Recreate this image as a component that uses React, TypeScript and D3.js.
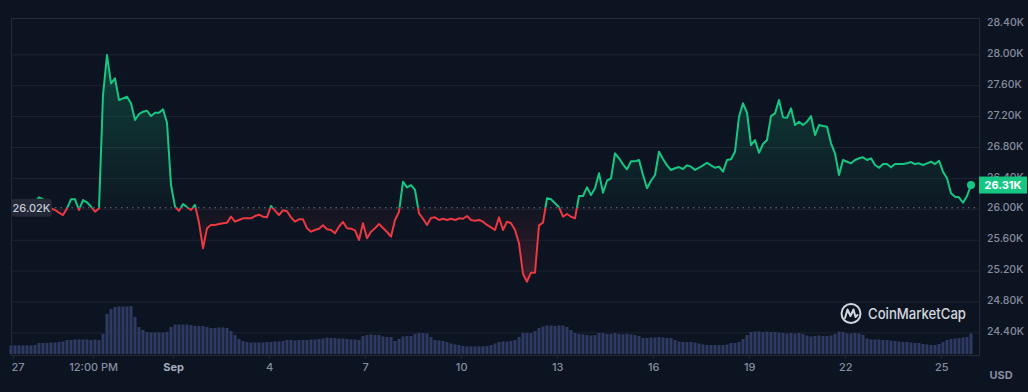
// BTC price chart, CoinMarketCap dark style
import React, { useEffect, useRef } from 'react';
import * as d3 from 'd3';

// 3-hourly samples starting Aug 26 22:00 UTC
const START_TIME = Date.UTC(2023, 7, 26, 22);
const STEP_HOURS = 3;

const prices = [
  26056, 26056, 26034, 26056, 26078, 26056, 26098, 26155, 26129, 26056,
  26012, 25991, 25956, 25926, 26012, 26129, 26129, 25991, 26120, 26091,
  26034, 25969, 26012, 27479, 27997, 27630, 27695, 27414, 27436, 27457,
  27372, 27156, 27233, 27263, 27276, 27207, 27250, 27250, 27294, 27121,
  26314, 26034, 25982, 26069, 26026, 25991, 26056, 25827, 25495, 25754,
  25797, 25797, 25810, 25819, 25827, 25905, 25840, 25862, 25883, 25883,
  25883, 25913, 25930, 25904, 25896, 26043, 25982, 25926, 25987, 25974,
  25896, 25840, 25870, 25870, 25754, 25710, 25732, 25749, 25793, 25741,
  25732, 25689, 25775, 25836, 25754, 25749, 25728, 25603, 25819, 25625,
  25710, 25754, 25810, 25758, 25706, 25646, 25862, 25969, 26357, 26284,
  26314, 26250, 25948, 25878, 25797, 25887, 25896, 25862, 25878, 25862,
  25878, 25862, 25883, 25878, 25913, 25862, 25852, 25862, 25840, 25797,
  25767, 25732, 25896, 25732, 25840, 25819, 25732, 25560, 25163, 25063,
  25180, 25180, 25793, 25827, 26142, 26129, 26078, 26026, 25904, 25939,
  25904, 25883, 26172, 26172, 26284, 26185, 26272, 26466, 26215, 26370,
  26401, 26725, 26660, 26582, 26518, 26621, 26621, 26638, 26444, 26272,
  26370, 26444, 26745, 26651, 26569, 26509, 26531, 26547, 26521, 26569,
  26552, 26509, 26538, 26569, 26603, 26569, 26538, 26552, 26487, 26638,
  26647, 26745, 27198, 27372, 27250, 26832, 26897, 26732, 26845, 26897,
  27207, 27242, 27414, 27190, 27185, 27307, 27091, 27134, 27091, 27134,
  27207, 26961, 27091, 27078, 27069, 26854, 26725, 26444, 26638, 26616,
  26595, 26638, 26660, 26673, 26638, 26660, 26573, 26538, 26586, 26586,
  26543, 26586, 26586, 26586, 26595, 26612, 26586, 26595, 26573, 26595,
  26616, 26586, 26629, 26487, 26401, 26207, 26163, 26155, 26085, 26172,
  26314,
];

// relative volume (same timestamps)
const volumes = [
  8.6, 8.6, 8.6, 8.6, 8.6, 8.6, 9, 11, 11, 11,
  11.5, 11.5, 12, 12.5, 14, 14, 14.5, 14.5, 14.5, 14.5,
  14, 14.5, 14, 20, 40, 45, 47, 47.5, 47.5, 47.5,
  48, 37, 27, 24, 22, 21.5, 21.5, 21.5, 21.5, 22,
  27, 29.5, 29.5, 29.5, 29.5, 29, 28, 28, 28, 27,
  26, 26, 26.5, 26.5, 26, 23, 19, 15, 13, 12,
  11.5, 11.5, 11.5, 11.5, 12, 12, 12.5, 12.5, 13, 14,
  14, 13.5, 14, 14, 14, 14.5, 14.5, 15, 15.5, 16.5,
  16, 16, 15.5, 15.5, 15, 14.5, 14.5, 14, 18, 19,
  19.5, 19, 19, 17.5, 17, 17, 13, 15, 17.5, 18,
  18, 20, 21, 21, 20.5, 17, 14, 13.5, 13, 12,
  10.5, 9.5, 9, 8, 7.7, 7.7, 7.7, 7.7, 7.7, 8,
  9, 10.5, 12, 12.5, 12.5, 13, 14, 17, 21, 21,
  21, 23, 26, 27.5, 28.5, 28.5, 28, 28.5, 28.5, 27,
  24, 21, 20, 19.5, 19, 18.5, 19, 21, 21, 20,
  20, 21, 20, 19.5, 20, 19.5, 19, 18, 16, 16,
  16.5, 16.5, 17, 16.5, 16, 16, 14, 12.5, 12, 12,
  12, 11.5, 10.5, 9.5, 9, 9, 9, 9, 9, 9.5,
  11, 11, 12, 15, 19, 22, 22.5, 22.5, 22, 22.5,
  22, 22, 21.5, 21, 20.5, 21, 20.5, 21, 20, 18.5,
  17.5, 18, 18.5, 18, 18, 18.5, 20, 22.5, 22, 20.5,
  20.5, 21, 20.5, 19, 15.5, 14.5, 14.5, 14.5, 14, 14,
  13.5, 13, 12.5, 12, 12, 11.5, 11, 11, 10, 9.5,
  9, 9, 10, 12, 14, 15, 15.5, 16, 16.5, 17,
  20.5,
];

const referencePrice = 26020;
const referenceLabel = '26.02K';
const currentLabel = '26.31K';

const yTicks = [24400, 24800, 25200, 25600, 26000, 26400, 26800, 27200, 27600, 28000, 28400];

const xTickDates = [
  Date.UTC(2023, 7, 27), Date.UTC(2023, 7, 29, 12), Date.UTC(2023, 8, 1),
  Date.UTC(2023, 8, 4), Date.UTC(2023, 8, 7), Date.UTC(2023, 8, 10),
  Date.UTC(2023, 8, 13), Date.UTC(2023, 8, 16), Date.UTC(2023, 8, 19),
  Date.UTC(2023, 8, 22), Date.UTC(2023, 8, 25),
];
const xTickLabels = ['27', '12:00 PM', 'Sep', '4', '7', '10', '13', '16', '19', '22', '25'];

const W = 1028;
const H = 392;
const FONT = 'Inter, "Noto Sans", sans-serif';
const GREEN = '#16c784';
const RED = '#ea3943';

const App: React.FC = () => {
  const ref = useRef<SVGSVGElement>(null);

  useEffect(() => {
    if (!ref.current) return;
    const svg = d3.select(ref.current);
    svg.selectAll('*').remove();

    const left = 11, right = 979, top = 18, bottom = 355;

    const pts = prices.map((p, i) => ({
      t: new Date(START_TIME + i * STEP_HOURS * 3600e3),
      p,
      v: volumes[i],
    }));

    const x = d3.scaleUtc()
      .domain([pts[0].t, pts[pts.length - 1].t])
      .range([11, 971]);
    const y = d3.scaleLinear().domain([24000, 28400]).range([363.8, 23.9]);
    const vy = d3.scaleLinear().domain([0, 48]).range([354, 306]);
    const refY = y(referencePrice);

    svg.append('rect').attr('width', W).attr('height', H).attr('fill', '#0d1421');

    const defs = svg.append('defs');
    defs.append('clipPath').attr('id', 'clip-up')
      .append('rect').attr('x', left).attr('y', 0).attr('width', right - left).attr('height', refY);
    defs.append('clipPath').attr('id', 'clip-down')
      .append('rect').attr('x', left).attr('y', refY).attr('width', right - left).attr('height', bottom - refY);

    const gUp = defs.append('linearGradient').attr('id', 'g-up')
      .attr('gradientUnits', 'userSpaceOnUse')
      .attr('x1', 0).attr('x2', 0).attr('y1', y(28000)).attr('y2', refY);
    gUp.append('stop').attr('offset', 0).attr('stop-color', GREEN).attr('stop-opacity', 0.26);
    gUp.append('stop').attr('offset', 1).attr('stop-color', GREEN).attr('stop-opacity', 0.02);

    const gDown = defs.append('linearGradient').attr('id', 'g-down')
      .attr('gradientUnits', 'userSpaceOnUse')
      .attr('x1', 0).attr('x2', 0).attr('y1', refY).attr('y2', y(25000));
    gDown.append('stop').attr('offset', 0).attr('stop-color', RED).attr('stop-opacity', 0.02);
    gDown.append('stop').attr('offset', 1).attr('stop-color', RED).attr('stop-opacity', 0.22);

    // grid
    svg.append('g').selectAll('line')
      .data(yTicks.filter(t => t < 28400))
      .enter().append('line')
      .attr('x1', left).attr('x2', right)
      .attr('y1', d => y(d)).attr('y2', d => y(d))
      .attr('stroke', '#1e2331').attr('stroke-width', 1);

    svg.append('rect')
      .attr('x', left + 0.5).attr('y', top + 0.5)
      .attr('width', right - left).attr('height', bottom - top)
      .attr('fill', 'none').attr('stroke', '#252a38');

    // volume
    svg.append('g').selectAll('rect')
      .data(pts)
      .enter().append('rect')
      .attr('x', d => x(d.t) - 1.5)
      .attr('width', 3)
      .attr('y', d => vy(d.v))
      .attr('height', d => 354 - vy(d.v))
      .attr('fill', '#2f3a63');

    // areas
    const area = d3.area<typeof pts[0]>()
      .x(d => x(d.t)).y0(refY).y1(d => y(d.p));
    svg.append('path').datum(pts)
      .attr('d', area).attr('fill', 'url(#g-up)').attr('clip-path', 'url(#clip-up)');
    svg.append('path').datum(pts)
      .attr('d', area).attr('fill', 'url(#g-down)').attr('clip-path', 'url(#clip-down)');

    // reference dotted line
    svg.append('line')
      .attr('x1', left).attr('x2', right)
      .attr('y1', refY).attr('y2', refY)
      .attr('stroke', '#6b7284').attr('stroke-width', 1.2)
      .attr('stroke-dasharray', '1.5,4');

    // price line
    const line = d3.line<typeof pts[0]>().x(d => x(d.t)).y(d => y(d.p));
    svg.append('path').datum(pts)
      .attr('d', line).attr('fill', 'none').attr('stroke', GREEN)
      .attr('stroke-width', 2).attr('stroke-linejoin', 'round')
      .attr('clip-path', 'url(#clip-up)');
    svg.append('path').datum(pts)
      .attr('d', line).attr('fill', 'none').attr('stroke', RED)
      .attr('stroke-width', 2).attr('stroke-linejoin', 'round')
      .attr('clip-path', 'url(#clip-down)');

    const last = pts[pts.length - 1];
    svg.append('circle')
      .attr('cx', x(last.t)).attr('cy', y(last.p)).attr('r', 4)
      .attr('fill', GREEN);

    // reference label
    svg.append('rect')
      .attr('x', left).attr('y', refY - 9).attr('width', 41).attr('height', 18)
      .attr('rx', 4).attr('fill', '#222835');
    svg.append('text')
      .attr('x', left + 20.5).attr('y', refY).attr('dy', '0.35em')
      .attr('text-anchor', 'middle')
      .style('font-family', FONT).style('font-size', '11px').style('font-weight', 500)
      .attr('fill', '#c5cbd8')
      .text(referenceLabel);

    // y axis labels
    svg.append('g').selectAll('text')
      .data(yTicks)
      .enter().append('text')
      .attr('x', 987).attr('y', d => y(d) - 1.5).attr('dy', '0.35em')
      .style('font-family', FONT).style('font-size', '10.5px').style('font-weight', 500)
      .attr('fill', '#858ca0')
      .text(d => `${(d / 1000).toFixed(2)}K`);

    // current price tag
    const cy = y(last.p);
    svg.append('rect')
      .attr('x', right).attr('y', cy - 8.5).attr('width', 48).attr('height', 17)
      .attr('fill', GREEN);
    svg.append('text')
      .attr('x', right + 24).attr('y', cy).attr('dy', '0.36em')
      .attr('text-anchor', 'middle')
      .style('font-family', FONT).style('font-size', '11px').style('font-weight', 700)
      .attr('fill', '#ffffff')
      .text(currentLabel);

    // x axis
    const xa = svg.append('g');
    xTickDates.forEach((d, i) => {
      const px = x(new Date(d));
      xa.append('line')
        .attr('x1', px).attr('x2', px).attr('y1', bottom).attr('y2', bottom + 4)
        .attr('stroke', '#252a38');
      xa.append('text')
        .attr('x', Math.max(px, 18)).attr('y', 367.5).attr('dy', '0.35em')
        .attr('text-anchor', 'middle')
        .style('font-family', FONT).style('font-size', '11px')
        .style('font-weight', xTickLabels[i] === 'Sep' ? 700 : 500)
        .attr('fill', xTickLabels[i] === 'Sep' ? '#a3abbd' : '#858ca0')
        .text(xTickLabels[i]);
    });

    svg.append('text')
      .attr('x', 1001).attr('y', 375).attr('dy', '0.35em')
      .attr('text-anchor', 'middle')
      .style('font-family', FONT).style('font-size', '11px').style('font-weight', 700)
      .attr('fill', '#858ca0')
      .text('USD');

    // watermark
    const logo = svg.append('g').attr('opacity', 0.92);
    logo.append('circle')
      .attr('cx', 851).attr('cy', 313.5).attr('r', 9.5)
      .attr('fill', 'none').attr('stroke', '#e3e7ef').attr('stroke-width', 2);
    logo.append('path')
      .attr('d', 'M845,318 L847.5,309.5 L850.5,316 L853.5,309.5 L855.5,317 L857.5,315')
      .attr('fill', 'none').attr('stroke', '#e3e7ef').attr('stroke-width', 2)
      .attr('stroke-linejoin', 'round').attr('stroke-linecap', 'round');
    logo.append('text')
      .attr('x', 868).attr('y', 313.5).attr('dy', '0.36em')
      .attr('textLength', 98).attr('lengthAdjust', 'spacingAndGlyphs')
      .style('font-family', FONT).style('font-size', '15px').style('font-weight', 500)
      .attr('fill', '#e3e7ef')
      .text('CoinMarketCap');
  }, []);

  return (
    <svg
      ref={ref}
      width={W}
      height={H}
      style={{ position: 'absolute', left: 0, top: 0, display: 'block' }}
    />
  );
};

export default App;
